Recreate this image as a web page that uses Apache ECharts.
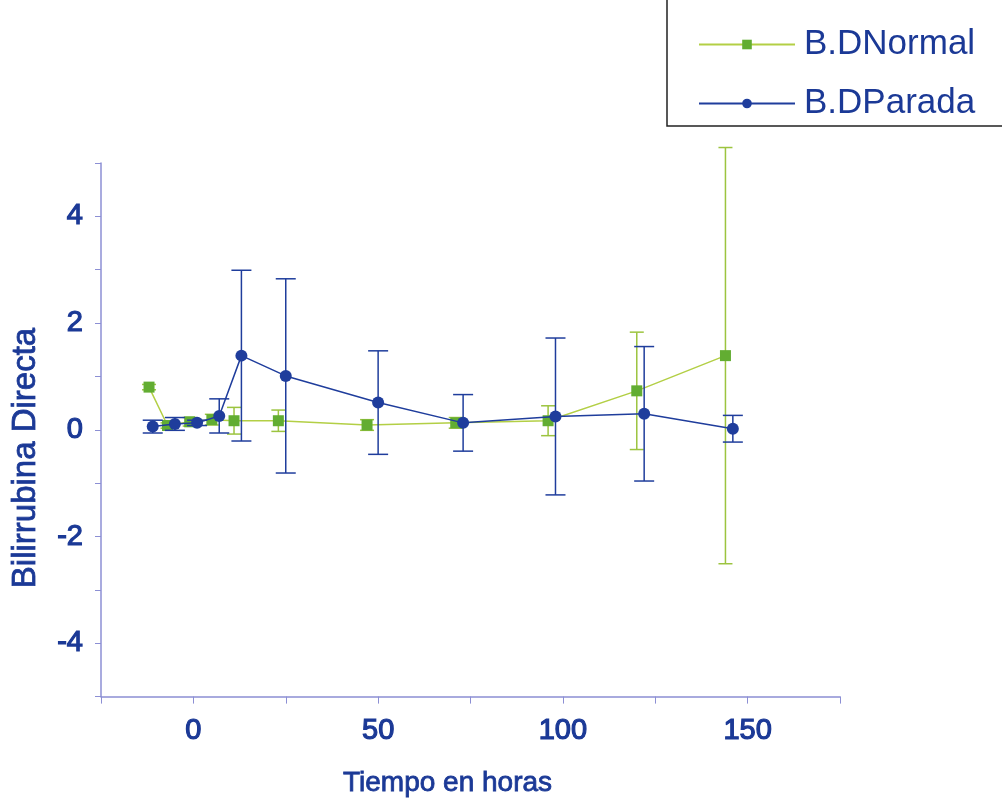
<!DOCTYPE html>
<html>
<head>
<meta charset="utf-8">
<script src="https://cdn.jsdelivr.net/npm/echarts@6/dist/echarts.min.js"></script>
<style>
html,body{margin:0;padding:0;background:#fff;}
#chart{width:1002px;height:803px;}
</style>
</head>
<body>
<div id="chart"></div>
<script>
// ---- data ----
var seriesNames = ['B.DNormal', 'B.DParada'];
// B.DNormal: time (h), mean, error
var normalX   = [-12, -7, -1, 5, 11, 23, 47, 71, 96, 120, 144];
var normalY   = [0.80, 0.08, 0.15, 0.19, 0.17, 0.17, 0.09, 0.13, 0.17, 0.73, 1.39];
var normalErr = [0.05, 0.05, 0.08, 0.10, 0.25, 0.20, 0.10, 0.10, 0.28, 1.10, 3.90];
// B.DParada
var paradaX   = [-11, -5, 1, 7, 13, 25, 50, 73, 98, 122, 146];
var paradaY   = [0.06, 0.11, 0.13, 0.26, 1.39, 1.01, 0.51, 0.13, 0.25, 0.30, 0.02];
var paradaErr = [0.12, 0.12, 0.05, 0.32, 1.60, 1.82, 0.97, 0.53, 1.47, 1.26, 0.25];
var xTickLabels = ['0', '50', '100', '150'];
var yTickLabels = ['-4', '-2', '0', '2', '4'];

var GREEN_LINE = '#b3cf45';
var GREEN_MARK = '#62ad32';
var GREEN_ERR = '#9cc43f';
var BLUE = '#1f3d9c';
var AXIS = '#8c8fd4';
var TEXT = '#1b3996';
var FONT = "'Liberation Sans', Arial, sans-serif";

function pts(xs, ys) { return xs.map(function (x, i) { return [x, ys[i]]; }); }
function errPts(xs, ys, es) { return xs.map(function (x, i) { return [x, ys[i], es[i]]; }); }

function errRender(color, cap) {
  return function (params, api) {
    var x = api.value(0), y = api.value(1), e = api.value(2);
    var hi = api.coord([x, y + e]);
    var lo = api.coord([x, y - e]);
    var st = { stroke: color, lineWidth: 1.5 };
    return {
      type: 'group',
      children: [
        { type: 'line', shape: { x1: hi[0], y1: hi[1], x2: lo[0], y2: lo[1] }, style: st },
        { type: 'line', shape: { x1: hi[0] - cap, y1: hi[1], x2: hi[0] + cap, y2: hi[1] }, style: st },
        { type: 'line', shape: { x1: lo[0] - cap, y1: lo[1], x2: lo[0] + cap, y2: lo[1] }, style: st }
      ]
    };
  };
}

var chart = echarts.init(document.getElementById('chart'));
chart.setOption({
  backgroundColor: '#ffffff',
  animation: false,
  grid: { left: 101, right: 162, top: 163, bottom: 106 },
  legend: {
    data: seriesNames,
    orient: 'vertical',
    left: 693,
    top: 22,
    itemWidth: 96,
    itemHeight: 12,
    itemGap: 24,
    textStyle: { fontFamily: FONT, fontSize: 35, color: TEXT, padding: [0, 0, 0, 4] }
  },
  graphic: [
    {
      type: 'polyline',
      shape: { points: [[667, 0], [667, 126], [1002, 126]] },
      style: { stroke: '#222', lineWidth: 1.5, fill: null },
      silent: true
    },
    {
      type: 'text',
      x: 26, y: 458,
      rotation: Math.PI / 2,
      style: {
        text: 'Bilirrubina Directa',
        fontFamily: FONT, fontSize: 33, fill: TEXT,
        stroke: TEXT, lineWidth: 0.8,
        align: 'center', verticalAlign: 'middle'
      },
      silent: true
    }
  ],
  xAxis: {
    type: 'value',
    min: -25, max: 175, interval: 25,
    name: 'Tiempo en horas',
    nameLocation: 'middle',
    nameGap: 73,
    nameTextStyle: { fontFamily: FONT, fontSize: 28, color: TEXT, verticalAlign: 'top', padding: [0, 46, 0, 0], textBorderColor: TEXT, textBorderWidth: 0.8 },
    axisLine: { onZero: false, lineStyle: { color: AXIS, width: 1.5 } },
    axisTick: { length: 7, lineStyle: { color: AXIS } },
    splitLine: { show: false },
    axisLabel: {
      fontFamily: FONT, fontSize: 29, color: TEXT, margin: 20,
      textBorderColor: TEXT, textBorderWidth: 1.2,
      formatter: function (v) { var s = String(v); return xTickLabels.indexOf(s) >= 0 ? s : ''; }
    }
  },
  yAxis: {
    type: 'value',
    min: -5, max: 5, interval: 1,
    axisLine: { show: true, onZero: false, lineStyle: { color: AXIS, width: 1.5 } },
    axisTick: { show: true, length: 6, lineStyle: { color: AXIS } },
    splitLine: { show: false },
    axisLabel: {
      fontFamily: FONT, fontSize: 29, color: TEXT, margin: 18,
      textBorderColor: TEXT, textBorderWidth: 1.2,
      formatter: function (v) { var s = String(v); return yTickLabels.indexOf(s) >= 0 ? s : ''; }
    }
  },
  series: [
    {
      type: 'custom',
      renderItem: errRender(GREEN_ERR, 7),
      data: errPts(normalX, normalY, normalErr),
      z: 1
    },
    {
      name: seriesNames[0],
      type: 'line',
      data: pts(normalX, normalY),
      symbol: 'rect',
      symbolSize: 11,
      itemStyle: { color: GREEN_MARK },
      lineStyle: { color: GREEN_LINE, width: 1.5 },
      z: 2
    },
    {
      type: 'custom',
      renderItem: errRender(BLUE, 10),
      data: errPts(paradaX, paradaY, paradaErr),
      z: 3
    },
    {
      name: seriesNames[1],
      type: 'line',
      data: pts(paradaX, paradaY),
      symbol: 'circle',
      symbolSize: 12,
      itemStyle: { color: BLUE },
      lineStyle: { color: BLUE, width: 1.5 },
      z: 4
    }
  ]
});
</script>
</body>
</html>
